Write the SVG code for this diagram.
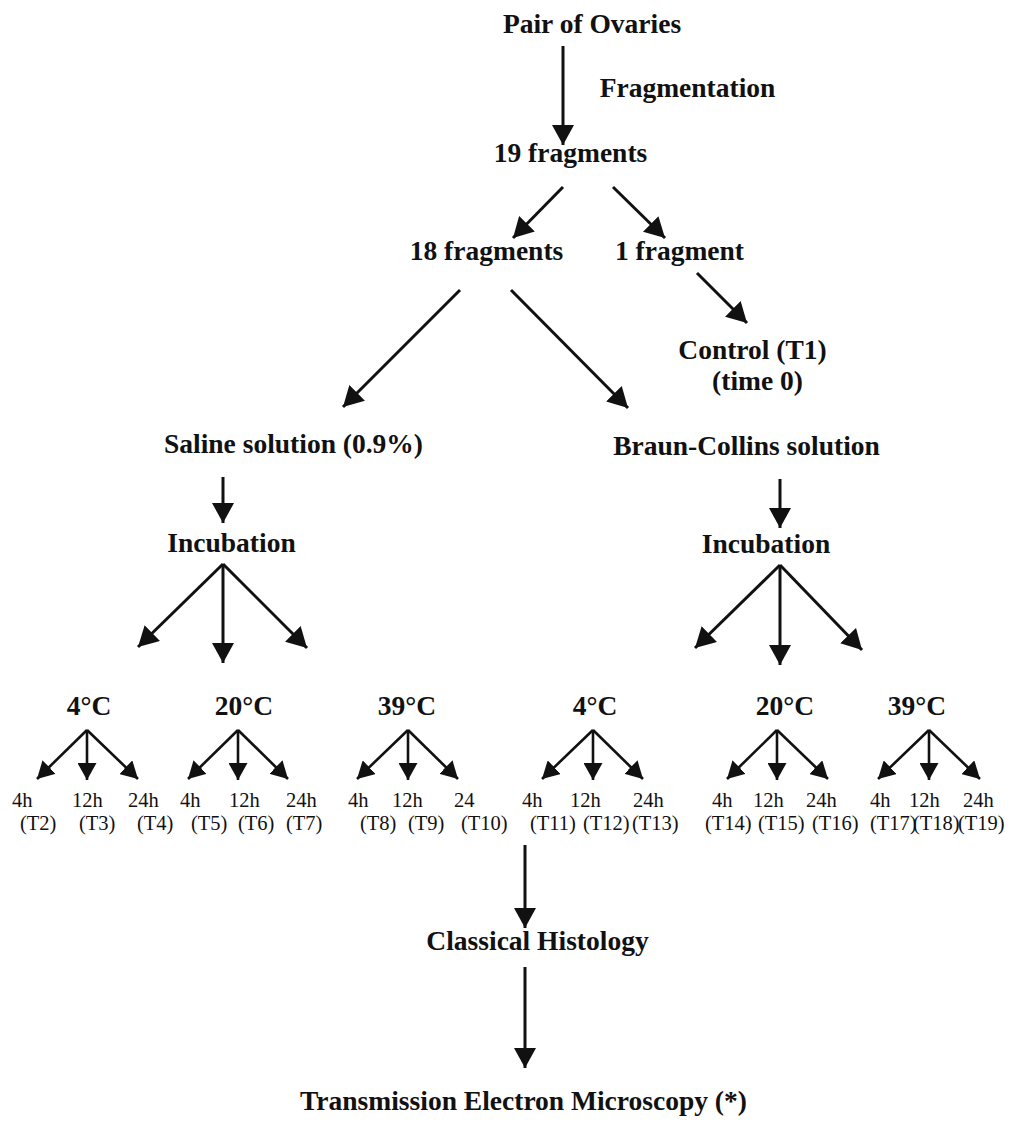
<svg xmlns="http://www.w3.org/2000/svg" width="1019" height="1122" viewBox="0 0 1019 1122">
<style>
.b{font-family:"Liberation Serif","Times New Roman",serif;font-weight:bold;font-size:27.5px;fill:#111;text-anchor:middle}
.t{font-family:"Liberation Serif","Times New Roman",serif;font-size:20.5px;fill:#111}
.c line{stroke:#111;stroke-width:3;marker-end:url(#ah)}
.c g.s line{stroke-width:2.6;marker-end:url(#as)}
</style>
<defs>
<marker id="ah" viewBox="0 0 20 22" refX="20" refY="11" markerWidth="20" markerHeight="22" markerUnits="userSpaceOnUse" orient="auto"><path d="M0,0 L20,11 L0,22 z" fill="#111"/></marker>
<marker id="as" viewBox="0 0 17 19" refX="17" refY="9.5" markerWidth="17" markerHeight="19" markerUnits="userSpaceOnUse" orient="auto"><path d="M0,0 L17,9.5 L0,19 z" fill="#111"/></marker>
</defs>
<rect width="1019" height="1122" fill="#fff"/>
<g class="c" id="connectors">
<line x1="563" y1="46" x2="563" y2="145"/>
<line x1="563" y1="187" x2="513" y2="238"/>
<line x1="613" y1="187" x2="665" y2="238"/>
<line x1="697" y1="273" x2="747" y2="323"/>
<line x1="460" y1="290" x2="343" y2="407"/>
<line x1="511" y1="290" x2="628" y2="408"/>
<line x1="223" y1="477" x2="223" y2="523"/>
<line x1="780" y1="479" x2="780" y2="528"/>
<line x1="223" y1="564" x2="138" y2="647"/>
<line x1="223" y1="564" x2="223" y2="663"/>
<line x1="223" y1="564" x2="307" y2="648"/>
<line x1="780" y1="565" x2="695" y2="648"/>
<line x1="780" y1="565" x2="780" y2="665"/>
<line x1="780" y1="565" x2="862" y2="650"/>
<g class="s">
<line x1="87" y1="730" x2="37" y2="779"/><line x1="87" y1="730" x2="87" y2="780"/><line x1="87" y1="730" x2="138" y2="779"/>
<line x1="238" y1="730" x2="188" y2="779"/><line x1="238" y1="730" x2="238" y2="780"/><line x1="238" y1="730" x2="288" y2="779"/>
<line x1="408" y1="730" x2="357" y2="779"/><line x1="408" y1="730" x2="408" y2="780"/><line x1="408" y1="730" x2="458" y2="779"/>
<line x1="593" y1="730" x2="542" y2="779"/><line x1="593" y1="730" x2="593" y2="780"/><line x1="593" y1="730" x2="643" y2="779"/>
<line x1="777" y1="730" x2="727" y2="779"/><line x1="777" y1="730" x2="777" y2="780"/><line x1="777" y1="730" x2="828" y2="779"/>
<line x1="929" y1="730" x2="878" y2="779"/><line x1="929" y1="730" x2="929" y2="780"/><line x1="929" y1="730" x2="980" y2="779"/>
</g>
<line x1="525" y1="845" x2="525" y2="928"/>
<line x1="525" y1="967" x2="525" y2="1068"/>
</g>
<g id="pair"><text class="b" x="592" y="33">Pair of Ovaries</text></g>
<g id="fragmentation"><text class="b" x="687.5" y="97">Fragmentation</text></g>
<g id="f19"><text class="b" x="570.5" y="162">19 fragments</text></g>
<g id="f18"><text class="b" x="486.5" y="260">18 fragments</text></g>
<g id="f1"><text class="b" x="679.5" y="260">1 fragment</text></g>
<g id="control"><text class="b" x="752.5" y="359">Control (T1)</text><text class="b" x="757.5" y="390">(time 0)</text></g>
<g id="saline"><text class="b" x="293.5" y="453">Saline solution (0.9%)</text></g>
<g id="braun"><text class="b" x="746.5" y="455">Braun-Collins solution</text></g>
<g id="incL"><text class="b" x="231.5" y="552">Incubation</text></g>
<g id="incR"><text class="b" x="766" y="553">Incubation</text></g>
<g id="tempL4"><text class="b" x="89" y="715">4°C</text></g>
<g id="tempL20"><text class="b" x="244" y="715">20°C</text></g>
<g id="tempL39"><text class="b" x="407" y="715">39°C</text></g>
<g id="tempR4"><text class="b" x="595" y="715">4°C</text></g>
<g id="tempR20"><text class="b" x="785" y="715">20°C</text></g>
<g id="tempR39"><text class="b" x="917" y="715">39°C</text></g>
<g id="times" class="t">
<text x="12" y="807">4h</text><text x="72" y="807">12h</text><text x="128" y="807">24h</text>
<text x="180" y="807">4h</text><text x="229" y="807">12h</text><text x="286" y="807">24h</text>
<text x="348" y="807">4h</text><text x="392" y="807">12h</text><text x="454" y="807">24</text>
<text x="522" y="807">4h</text><text x="570" y="807">12h</text><text x="633" y="807">24h</text>
<text x="712" y="807">4h</text><text x="753" y="807">12h</text><text x="806" y="807">24h</text>
<text x="870" y="807">4h</text><text x="909" y="807">12h</text><text x="963" y="807">24h</text>
<text x="20" y="830">(T2)</text><text x="79" y="830">(T3)</text><text x="137" y="830">(T4)</text>
<text x="191" y="830">(T5)</text><text x="238" y="830">(T6)</text><text x="286" y="830">(T7)</text>
<text x="360" y="830">(T8)</text><text x="408" y="830">(T9)</text><text x="461" y="830">(T10)</text>
<text x="530" y="830">(T11)</text><text x="583" y="830">(T12)</text><text x="632" y="830">(T13)</text>
<text x="705" y="830">(T14)</text><text x="758" y="830">(T15)</text><text x="812" y="830">(T16)</text>
<text x="870" y="830">(T17)</text><text x="913" y="830">(T18)</text><text x="958" y="830">(T19)</text>
</g>
<g id="histology"><text class="b" x="537.5" y="950">Classical Histology</text></g>
<g id="tem"><text class="b" x="523.5" y="1110">Transmission Electron Microscopy (*)</text></g>
</svg>
